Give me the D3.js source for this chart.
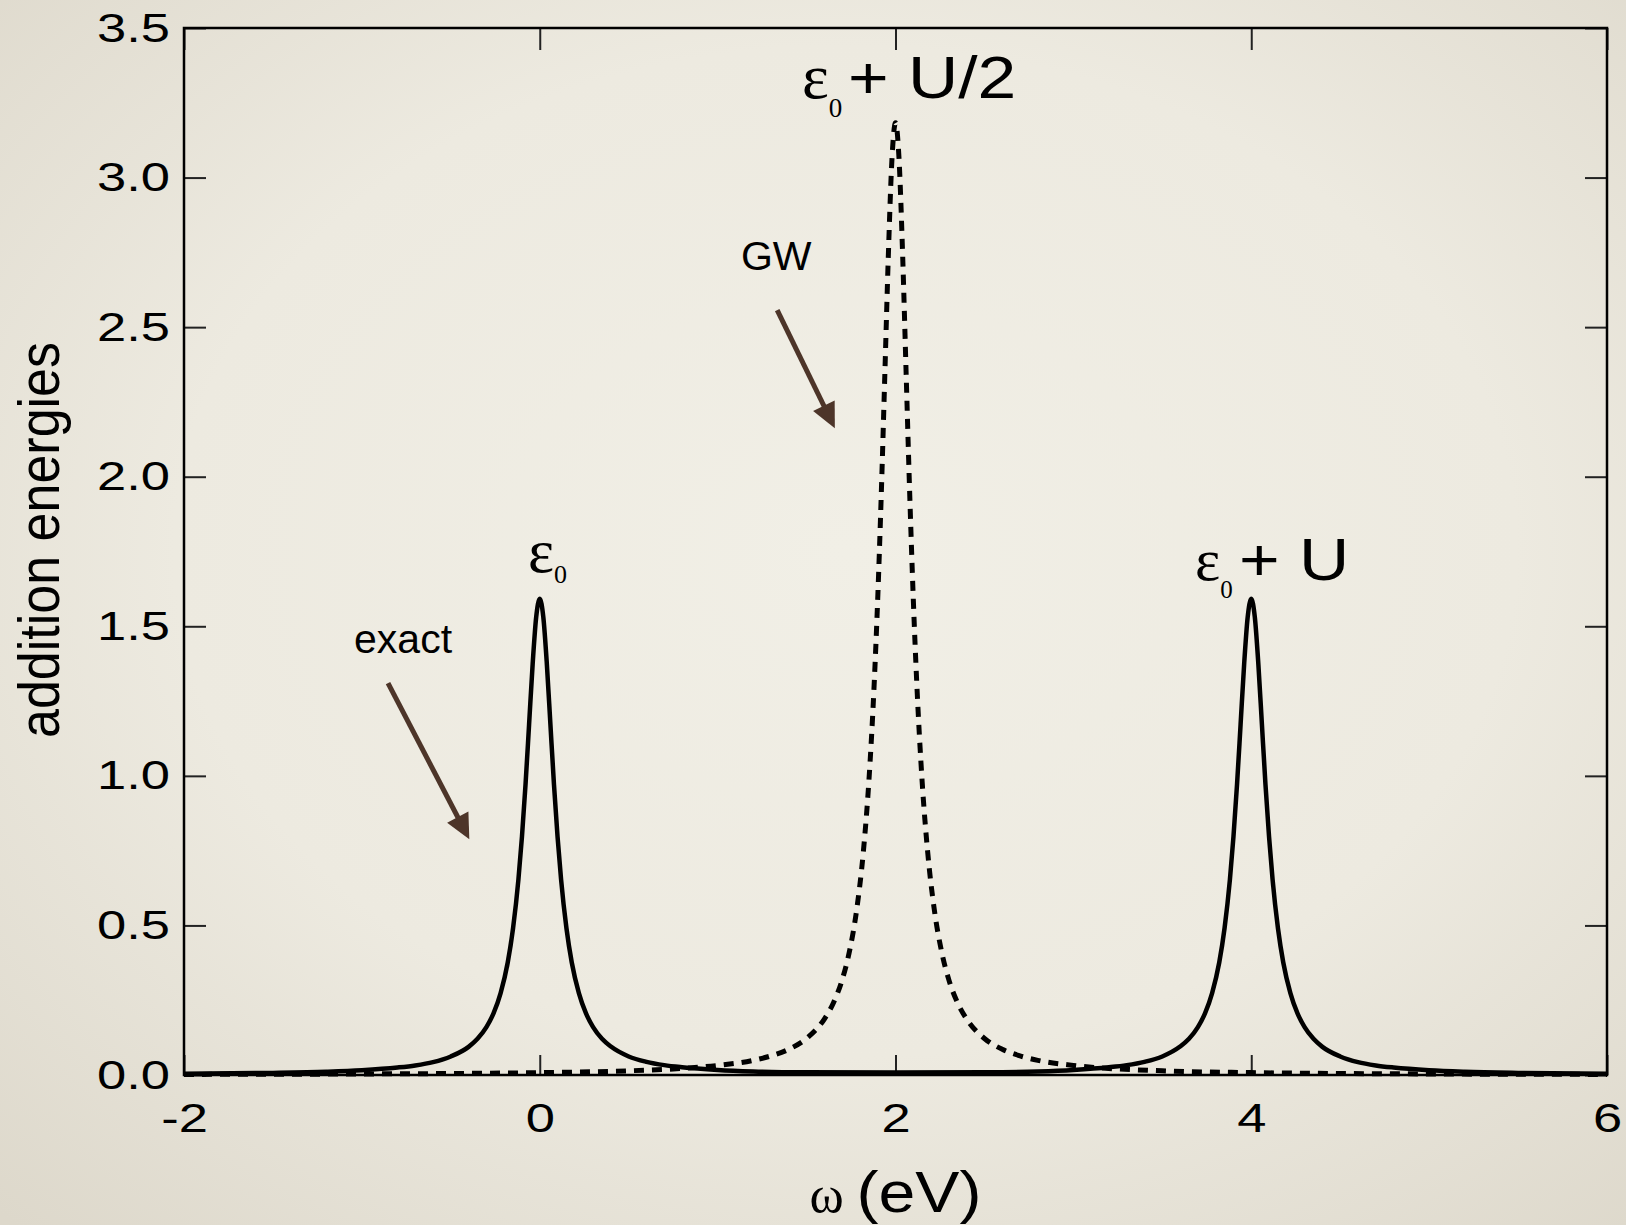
<!DOCTYPE html>
<html>
<head>
<meta charset="utf-8">
<script src="https://cdn.jsdelivr.net/npm/d3@7"></script>
<style>
  body { margin: 0; background: #e8e4da; }
  #chart { width: 1626px; height: 1225px; }
</style>
</head>
<body>
<div id="chart"></div>
<script>
// exact spectral function (solid line)
const exactOmega = [-2.0, -1.5, -1.2, -1.0, -0.8, -0.7, -0.6, -0.5, -0.4, -0.35, -0.3, -0.26, -0.22, -0.18, -0.15, -0.12, -0.1, -0.08, -0.06, -0.04, -0.02,
    0.0, 0.02, 0.04, 0.06, 0.08, 0.1, 0.12, 0.15, 0.18, 0.22, 0.26, 0.3, 0.35, 0.4, 0.5, 0.6, 0.7, 0.8, 1.0, 1.2, 1.5, 2.0,
    2.5, 2.8, 3.0, 3.2, 3.3, 3.4, 3.5, 3.6, 3.65, 3.7, 3.74, 3.78, 3.82, 3.85, 3.88, 3.9, 3.92, 3.94, 3.96, 3.98,
    4.0, 4.02, 4.04, 4.06, 4.08, 4.1, 4.12, 4.15, 4.18, 4.22, 4.26, 4.3, 4.35, 4.4, 4.5, 4.6, 4.7, 4.8, 5.0, 5.2, 5.5, 6.0];
const exactValues = [0.004, 0.007, 0.011, 0.016, 0.025, 0.032, 0.043, 0.062, 0.094, 0.121, 0.160, 0.206, 0.274, 0.376, 0.491, 0.653, 0.797, 0.971, 1.171, 1.373, 1.531,
    1.592, 1.531, 1.373, 1.171, 0.971, 0.797, 0.653, 0.491, 0.376, 0.274, 0.206, 0.160, 0.121, 0.095, 0.062, 0.044, 0.033, 0.026, 0.017, 0.012, 0.009, 0.008,
    0.009, 0.012, 0.017, 0.026, 0.033, 0.044, 0.062, 0.095, 0.121, 0.160, 0.206, 0.274, 0.376, 0.491, 0.653, 0.797, 0.971, 1.171, 1.373, 1.531,
    1.592, 1.531, 1.373, 1.171, 0.971, 0.797, 0.653, 0.491, 0.376, 0.274, 0.206, 0.160, 0.121, 0.094, 0.062, 0.043, 0.032, 0.025, 0.016, 0.011, 0.007, 0.004];

// GW spectral function (dashed line)
const gwOmega = [-2.0, -1.0, 0.0, 0.5, 0.8, 1.0, 1.2, 1.3, 1.4, 1.5, 1.6, 1.65, 1.7, 1.74, 1.78, 1.82, 1.85, 1.88, 1.9, 1.92, 1.94, 1.96, 1.98,
    2.0, 2.02, 2.04, 2.06, 2.08, 2.1, 2.12, 2.15, 2.18, 2.22, 2.26, 2.3, 2.35, 2.4, 2.5, 2.6, 2.7, 2.8, 3.0, 3.5, 4.0, 5.0, 6.0];
const gwValues = [0.002, 0.0035, 0.008, 0.014, 0.022, 0.032, 0.049, 0.064, 0.086, 0.122, 0.187, 0.240, 0.318, 0.410, 0.545, 0.751, 0.979, 1.305, 1.592, 1.941, 2.341, 2.744, 3.061,
    3.183, 3.061, 2.744, 2.341, 1.941, 1.592, 1.305, 0.979, 0.751, 0.545, 0.410, 0.318, 0.240, 0.187, 0.122, 0.086, 0.064, 0.049, 0.032, 0.014, 0.008, 0.0035, 0.002];

const xTickValues = [-2, 0, 2, 4, 6];
const yTickValues = [0, 0.5, 1.0, 1.5, 2.0, 2.5, 3.0, 3.5];

const margin = {top: 28, right: 19, bottom: 150, left: 184};
const width = 1626 - margin.left - margin.right;
const height = 1225 - margin.top - margin.bottom;

const root = d3.select("#chart").append("svg")
    .attr("width", 1626)
    .attr("height", 1225);

// beige paper background with soft vignette
const grad = root.append("defs").append("radialGradient")
    .attr("id", "bg")
    .attr("cx", "52%").attr("cy", "45%").attr("r", "75%");
grad.append("stop").attr("offset", "0%").attr("stop-color", "#f1efe6");
grad.append("stop").attr("offset", "55%").attr("stop-color", "#edeae0");
grad.append("stop").attr("offset", "100%").attr("stop-color", "#ddd8cb");

root.append("rect")
    .attr("width", 1626).attr("height", 1225)
    .attr("fill", "url(#bg)");

const svg = root.append("g")
    .attr("transform", `translate(${margin.left}, ${margin.top})`);

const x = d3.scaleLinear().domain([-2, 6]).range([0, width]);
const y = d3.scaleLinear().domain([0, 3.5]).range([height, 0]);

const sans = "'Liberation Sans', Arial, Helvetica, sans-serif";
const serif = "'Liberation Serif', 'Times New Roman', serif";

// stretch axis text a little wider, like the original
function widen(sel, k) {
    sel.each(function () {
        const len = this.getComputedTextLength();
        d3.select(this).attr("textLength", len * k).attr("lengthAdjust", "spacingAndGlyphs");
    });
}

function styleAxis(g, showText) {
    g.select(".domain").remove();
    g.selectAll(".tick line").attr("stroke", "#222").attr("stroke-width", 2);
    g.selectAll(".tick text")
        .attr("fill", "#000")
        .attr("font-family", sans)
        .attr("font-size", 41)
        .style("display", showText ? null : "none");
}

// axes, ticks pointing inward on all four sides
const xBottom = svg.append("g")
    .attr("transform", `translate(0, ${height})`)
    .call(d3.axisBottom(x).tickValues(xTickValues).tickFormat(d => String(d))
        .tickSizeInner(-20).tickSizeOuter(0).tickPadding(28))
    .call(g => styleAxis(g, true));
widen(xBottom.selectAll(".tick text"), 1.28);

svg.append("g")
    .call(d3.axisTop(x).tickValues(xTickValues).tickSizeInner(-22).tickSizeOuter(0))
    .call(g => styleAxis(g, false));

const yLeft = svg.append("g")
    .call(d3.axisLeft(y).tickValues(yTickValues).tickFormat(d3.format(".1f"))
        .tickSizeInner(-22).tickSizeOuter(0).tickPadding(14))
    .call(g => styleAxis(g, true));
widen(yLeft.selectAll(".tick text"), 1.28);

svg.append("g")
    .attr("transform", `translate(${width}, 0)`)
    .call(d3.axisRight(y).tickValues(yTickValues).tickSizeInner(-22).tickSizeOuter(0))
    .call(g => styleAxis(g, false));

// frame
svg.append("rect")
    .attr("width", width).attr("height", height)
    .attr("fill", "none")
    .attr("stroke", "#000")
    .attr("stroke-width", 2.5);

// curves
const line = d3.line()
    .x(d => x(d[0]))
    .y(d => y(d[1]))
    .curve(d3.curveMonotoneX);

svg.append("path")
    .datum(d3.zip(gwOmega, gwValues))
    .attr("d", line)
    .attr("fill", "none")
    .attr("stroke", "#000")
    .attr("stroke-width", 5)
    .attr("stroke-dasharray", "10,8");

svg.append("path")
    .datum(d3.zip(exactOmega, exactValues))
    .attr("d", line)
    .attr("fill", "none")
    .attr("stroke", "#000")
    .attr("stroke-width", 4.5)
    .attr("stroke-linejoin", "round");

// text helper: one piece of text, optionally widened
function piece(px, py, txt, size, family, sx) {
    return svg.append("text")
        .attr("transform", `translate(${px}, ${py}) scale(${sx}, 1)`)
        .attr("font-family", family)
        .attr("font-size", size)
        .attr("fill", "#000")
        .text(txt);
}

// peak labels: epsilon with subscript 0 in one text, then the sans part
const peakLabels = [
    {omega: -0.066, value: 1.681, eps: 62, sub: 26, subDy: 11, rest: "", restDx: 0},
    {omega: 1.474, value: 3.266, eps: 64, sub: 27, subDy: 19, rest: "+ U/2", restDx: 46},
    {omega: 3.684, value: 1.655, eps: 60, sub: 25, subDy: 18, rest: "+ U", restDx: 44}
];
peakLabels.forEach(l => {
    const px = x(l.omega), py = y(l.value);
    const t = svg.append("text")
        .attr("transform", `translate(${px}, ${py})`)
        .attr("font-family", serif)
        .attr("fill", "#000");
    t.append("tspan").attr("font-size", l.eps).text("ε");
    t.append("tspan").attr("font-size", l.sub)
        .attr("dy", l.subDy).text("0");
    if (l.rest) piece(px + l.restDx, py, l.rest, 60, sans, 1.16);
});

// annotation arrows
const arrowColor = "#4d3529";
const arrows = [
    {text: "exact", tx: -1.044, ty: 1.411, from: [-0.853, 1.31], to: [-0.396, 0.788]},
    {text: "GW", tx: 1.131, ty: 2.691, from: [1.335, 2.557], to: [1.659, 2.162]}
];
arrows.forEach(a => {
    piece(x(a.tx), y(a.ty), a.text, 41, sans, 1);
    const x0 = x(a.from[0]), y0 = y(a.from[1]);
    const x1 = x(a.to[0]), y1 = y(a.to[1]);
    const len = Math.hypot(x1 - x0, y1 - y0);
    const ux = (x1 - x0) / len, uy = (y1 - y0) / len;
    const headLen = 25, headHalf = 12;
    const bx = x1 - ux * headLen, by = y1 - uy * headLen;
    svg.append("line")
        .attr("x1", x0).attr("y1", y0)
        .attr("x2", bx + ux * 3).attr("y2", by + uy * 3)
        .attr("stroke", arrowColor)
        .attr("stroke-width", 5);
    svg.append("path")
        .attr("d", `M${x1},${y1} L${bx - uy * headHalf},${by + ux * headHalf} L${bx + uy * headHalf},${by - ux * headHalf} Z`)
        .attr("fill", arrowColor);
});

// axis titles
piece(x(2) - 86, height + 137, "ω", 52, serif, 1);
piece(x(2) - 39, height + 137, "(eV)", 58, sans, 1.14);

root.append("text")
    .attr("transform", "translate(59, 540) rotate(-90) scale(1, 1.1)")
    .attr("text-anchor", "middle")
    .attr("font-family", sans)
    .attr("font-size", 52)
    .attr("fill", "#000")
    .text("addition energies");
</script>
</body>
</html>
